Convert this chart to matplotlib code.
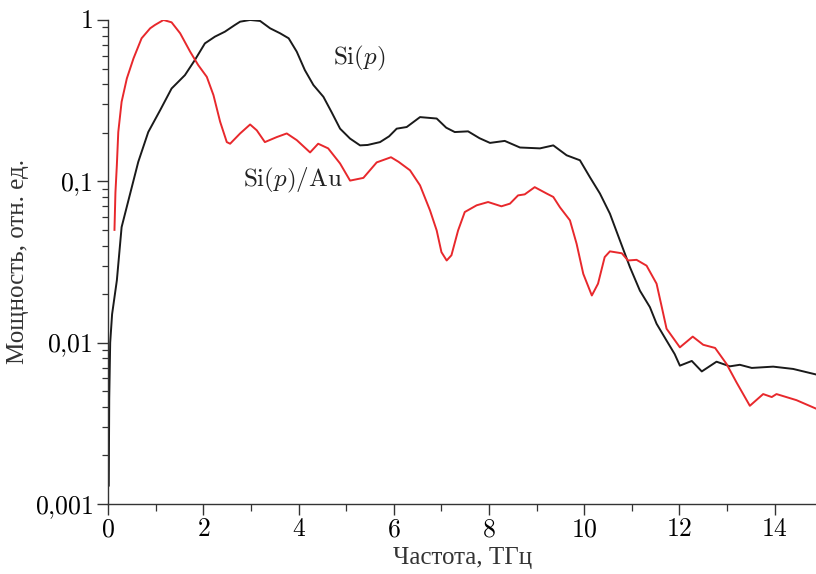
import numpy as np
import matplotlib
matplotlib.use("Agg")
import matplotlib.pyplot as plt

plt.rcParams['mathtext.fontset'] = 'cm'
plt.rcParams['font.family'] = ['Liberation Serif', 'DejaVu Serif']

# Si(p)
si_x = [0.01, 0.02, 0.04, 0.08, 0.18, 0.28, 0.46, 0.63, 0.84, 1.09, 1.33, 1.61,
        1.82, 2.03, 2.24, 2.45, 2.66, 2.77, 2.98, 3.19, 3.40, 3.61, 3.79, 3.96,
        4.13, 4.31, 4.52, 4.69, 4.87, 5.08, 5.29, 5.45, 5.71, 5.90, 6.06, 6.27,
        6.55, 6.90, 7.10, 7.28, 7.56, 7.80, 8.02, 8.33, 8.65, 9.07, 9.35, 9.63,
        9.91, 10.12, 10.33, 10.54, 10.75, 10.96, 11.17, 11.38, 11.52, 11.73,
        11.90, 12.01, 12.26, 12.47, 12.78, 13.06, 13.27, 13.52, 13.97, 14.39,
        14.87]
si_y = [0.0013, 0.0045, 0.01, 0.015, 0.0243, 0.052, 0.084, 0.132, 0.202, 0.276,
        0.376, 0.455, 0.565, 0.716, 0.788, 0.846, 0.931, 0.976, 1.0, 0.986,
        0.888, 0.827, 0.77, 0.636, 0.489, 0.395, 0.334, 0.269, 0.212, 0.184,
        0.167, 0.168, 0.175, 0.19, 0.212, 0.217, 0.250, 0.245, 0.215, 0.202,
        0.204, 0.185, 0.173, 0.178, 0.162, 0.160, 0.167, 0.145, 0.135, 0.106,
        0.084, 0.063, 0.043, 0.0294, 0.021, 0.0166, 0.0131, 0.0103, 0.0085,
        0.0072, 0.0077, 0.00663, 0.00762, 0.00713, 0.00729, 0.00697, 0.0071,
        0.00687, 0.00635]

# Si(p)/Au
au_x = [0.13, 0.15, 0.18, 0.21, 0.28, 0.39, 0.53, 0.70, 0.88, 0.98, 1.16, 1.33,
        1.51, 1.72, 1.89, 2.07, 2.21, 2.35, 2.49, 2.56, 2.77, 2.98, 3.12, 3.29,
        3.54, 3.75, 3.96, 4.24, 4.41, 4.62, 4.87, 5.08, 5.36, 5.64, 5.94, 6.10,
        6.34, 6.55, 6.76, 6.90, 7.0, 7.11, 7.21, 7.35, 7.49, 7.74, 7.98, 8.26,
        8.44, 8.61, 8.75, 8.96, 9.21, 9.35, 9.49, 9.70, 9.84, 9.98, 10.16, 10.29,
        10.43, 10.54, 10.79, 10.92, 11.10, 11.31, 11.52, 11.63, 11.73, 12.01,
        12.28, 12.50, 12.75, 12.99, 13.20, 13.48, 13.76, 13.94, 14.04, 14.46,
        14.87]
au_y = [0.050, 0.085, 0.126, 0.202, 0.311, 0.434, 0.578, 0.77, 0.888, 0.931,
        1.0, 0.967, 0.827, 0.636, 0.525, 0.444, 0.342, 0.234, 0.175, 0.171,
        0.198, 0.225, 0.207, 0.175, 0.188, 0.198, 0.18, 0.151, 0.171, 0.160,
        0.129, 0.101, 0.105, 0.131, 0.141, 0.132, 0.117, 0.0944, 0.066, 0.0496,
        0.0364, 0.0323, 0.0348, 0.0496, 0.0645, 0.071, 0.0744, 0.070, 0.0727,
        0.0818, 0.083, 0.092, 0.084, 0.080, 0.069, 0.0573, 0.041, 0.0267,
        0.0196, 0.0232, 0.0339, 0.0368, 0.0358, 0.0323, 0.0326, 0.030, 0.0232,
        0.0166, 0.0122, 0.00935, 0.0109, 0.0097, 0.00927, 0.00738, 0.00567,
        0.00406, 0.0048, 0.0046, 0.0048, 0.0044, 0.0039]

y_ticks = [0.001, 0.01, 0.1, 1]
y_labels = ['$0{,}001$', '$0{,}01$', '$0{,}1$', '$1$']
x_ticks = [0, 2, 4, 6, 8, 10, 12, 14]

fig = plt.figure(figsize=(8.16, 5.74), dpi=100)
ax = fig.add_axes([0.1327, 0.122, 0.8673, 0.8432])

ax.plot(si_x, si_y, color='#1a1a1a', lw=1.4)
ax.plot(au_x, au_y, color='#e8282c', lw=1.4)

ax.set_yscale('log')
ax.set_xlim(0, 14.87)
ax.set_ylim(0.001, 1)

ax.set_yticks(y_ticks)
ax.set_yticklabels(y_labels)
ax.set_xticks(x_ticks)
ax.set_xticklabels(['$%d$' % v for v in x_ticks])
ax.set_xticks(np.arange(1, 15, 2), minor=True)

for s in ['top', 'right']:
    ax.spines[s].set_visible(False)
for s in ['left', 'bottom']:
    ax.spines[s].set_color('#333333')
    ax.spines[s].set_linewidth(1.0)

ax.tick_params(axis='both', which='major', direction='out', length=8,
               width=1.0, color='#333333', labelsize=18.5, pad=3)
ax.tick_params(axis='y', which='minor', direction='out', length=4,
               width=0.9, color='#333333')
ax.tick_params(axis='x', which='minor', direction='out', length=5,
               width=0.9, color='#333333')

ax.set_xlabel('Частота, ТГц', fontsize=18, color='#333333', labelpad=4)
ax.set_ylabel('Мощность, отн. ед.', fontsize=18, color='#333333', labelpad=4)

ax.text(4.73, 0.58, r'$\mathrm{Si}(p)$', fontsize=18, color='#222222',
        va='center', ha='left')
ax.text(2.83, 0.101, r'$\mathrm{Si}(p)/\mathrm{Au}$', fontsize=18,
        color='#222222', va='center', ha='left')

fig.savefig('out.png', dpi=100)
